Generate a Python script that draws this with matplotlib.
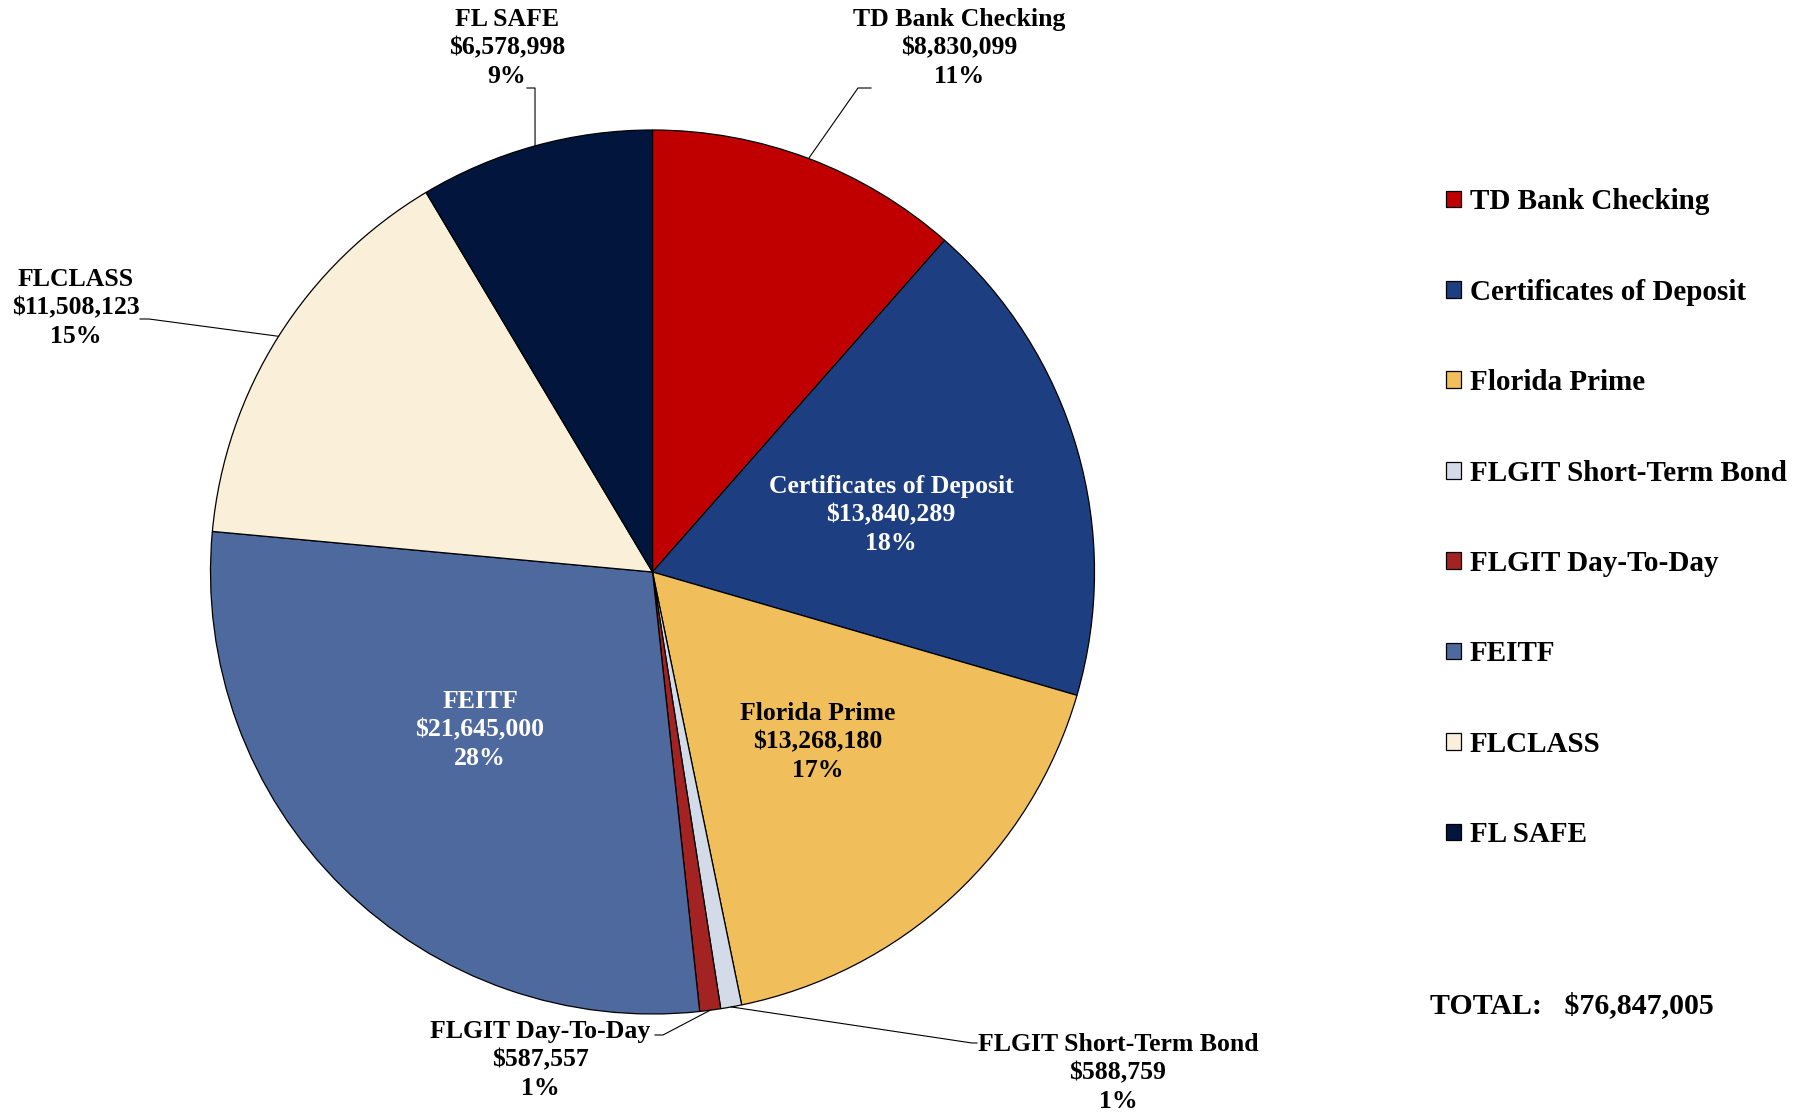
import numpy as np
import matplotlib
matplotlib.use('Agg')
import matplotlib.pyplot as plt
from matplotlib.lines import Line2D

plt.rcParams['font.family'] = ['Liberation Serif', 'DejaVu Serif']
plt.rcParams['font.weight'] = 'bold'

# data
names = ['TD Bank Checking', 'Certificates of Deposit', 'Florida Prime',
         'FLGIT Short-Term Bond', 'FLGIT Day-To-Day', 'FEITF', 'FLCLASS', 'FL SAFE']
values = [8830099, 13840289, 13268180, 588759, 587557, 21645000, 11508123, 6578998]
colors = ['#C00000', '#1E3E82', '#F0BE5A', '#D3DAE8', '#A32222', '#4E699E', '#FAEFD9', '#02163D']

W, H = 1798, 1116
fig = plt.figure(figsize=(W / 100, H / 100), dpi=100)

cx, cy, r = 652.5, 572, 442
ax = fig.add_axes([(cx - r) / W, 1 - (cy + r) / H, 2 * r / W, 2 * r / H])
wedges, _ = ax.pie(values, colors=colors, startangle=90, counterclock=False,
                   wedgeprops=dict(edgecolor='black', linewidth=0.9))
ax.set_xlim(-1, 1)
ax.set_ylim(-1, 1)
ax.set_aspect('equal')
ax.axis('off')

total = sum(values)


def fig_pt(x, y):
    # pixel coords measured from top-left
    return x / W, 1 - y / H


def edge_pt(w):
    ang = np.deg2rad((w.theta1 + w.theta2) / 2)
    disp = ax.transData.transform((np.cos(ang), np.sin(ang)))
    return fig.transFigure.inverted().transform(disp)


def label_text(i):
    return f"{names[i]}\n${values[i]:,.0f}\n{values[i] / total * 100:.0f}%"


LBL_FS = 18.5
LBL_LS = 1.3

# labels inside the pie: index, centre (px), colour
inside = [(1, 891, 515, 'white'), (2, 818, 742, 'black'), (5, 480, 730, 'white')]
for i, x, y, c in inside:
    fig.text(*fig_pt(x, y), label_text(i), ha='center', va='center', color=c,
             fontsize=LBL_FS, linespacing=LBL_LS)

# labels outside with leader lines: index, text centre, elbow, line end
outside = [
    (0, (959, 48), (858, 88), (871, 88)),
    (7, (507, 48), (535, 88), (527, 88)),
    (6, (76, 308), (149, 319), (140, 319)),
    (4, (540, 1060), (663, 1035), (655, 1035)),
    (3, (1118, 1073), (972, 1043), (977, 1043)),
]
for i, (tx, ty), elbow, end in outside:
    fig.text(*fig_pt(tx, ty), label_text(i), ha='center', va='center', color='black',
             fontsize=LBL_FS, linespacing=LBL_LS)
    p0 = edge_pt(wedges[i])
    p1 = fig_pt(*elbow)
    p2 = fig_pt(*end)
    fig.add_artist(Line2D([p0[0], p1[0], p2[0]], [p0[1], p1[1], p2[1]],
                          color='black', linewidth=0.8, transform=fig.transFigure))

leg = fig.legend(wedges, names, loc='upper left', bbox_to_anchor=fig_pt(1420, 162),
                 frameon=False, fontsize=21, labelspacing=2.175,
                 handlelength=0.5, handleheight=0.5, handletextpad=0.3)
for t in leg.get_texts():
    t.set_fontweight('bold')

fig.text(*fig_pt(1430, 1006), f"TOTAL:   ${total:,.0f}", ha='left', va='center',
         fontsize=21.5, color='black')

fig.savefig('out.png', dpi=100)
